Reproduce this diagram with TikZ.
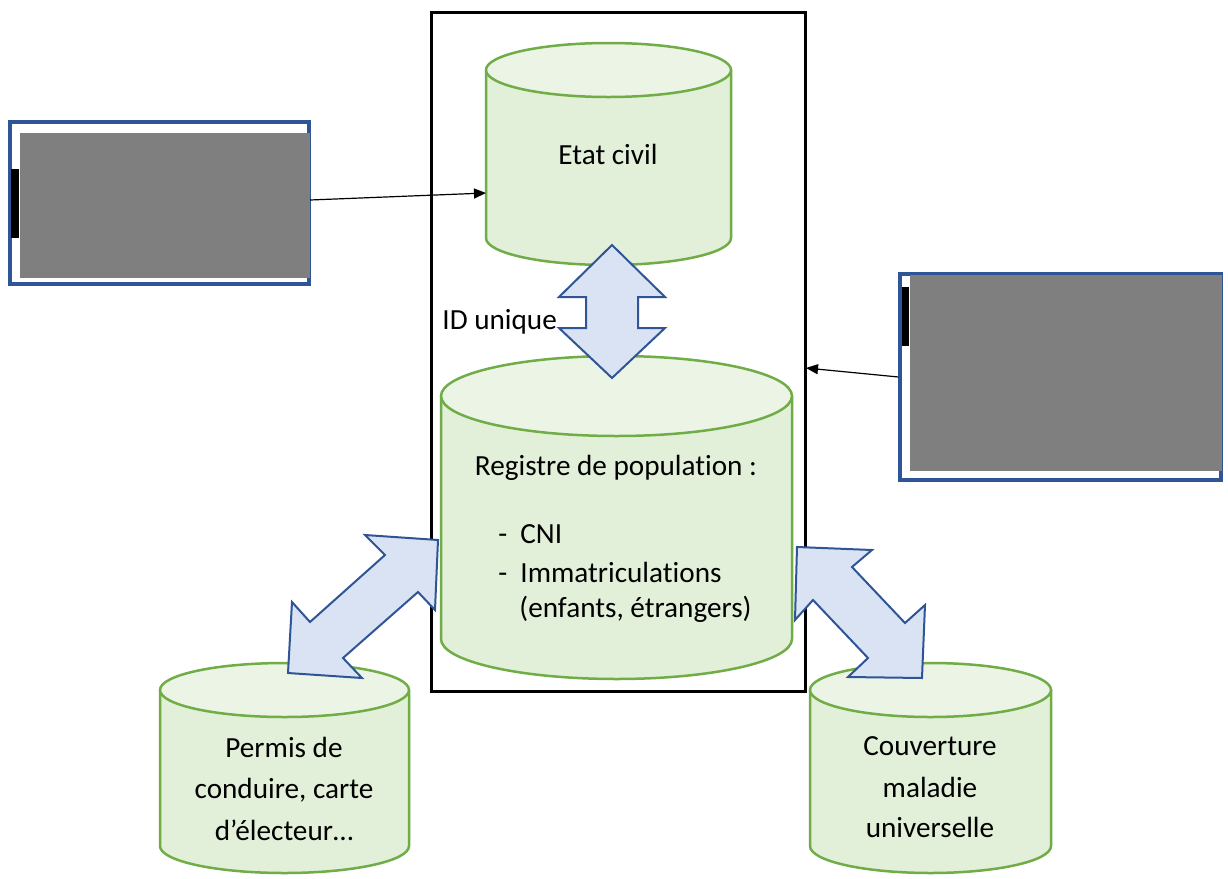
\documentclass[tikz,border=0pt]{standalone}
\usepackage{fontspec}
\setmainfont[Ligatures=NoCommon]{Carlito}
\usetikzlibrary{arrows.meta,fit}
\definecolor{cylbody}{HTML}{E2EFD9}
\definecolor{cyltop}{HTML}{ECF4E6}
\definecolor{cylline}{HTML}{70AD47}
\definecolor{arrfill}{HTML}{DAE3F3}
\definecolor{arrline}{HTML}{2F5597}
\definecolor{frameblue}{HTML}{2F5597}
\definecolor{maskgray}{HTML}{7F7F7F}
\newcommand\dbcyl[5]{%
  \pgfmathsetmacro\cylrx{(#2-#1)/2}%
  \pgfmathsetmacro\cylcx{(#1+#2)/2}%
  \fill[cylbody] (#1,#3) -- (#1,#4) arc[start angle=180,end angle=0,x radius=\cylrx,y radius=#5] -- (#2,#3) -- cycle;
  \draw[cylstroke] (#1,#3) -- (#1,#4) arc[start angle=180,end angle=0,x radius=\cylrx,y radius=#5] -- (#2,#3);
  \draw[cylstroke,fill=cyltop] (\cylcx,#3) ellipse[x radius=\cylrx,y radius=#5];
}
\tikzset{
  cylstroke/.style={draw=cylline,line width=1.25pt},
  fatarrow/.style={draw=arrline,fill=arrfill,line width=1pt,line join=miter},
  conn/.style={draw=black,line width=0.6pt,-{Triangle[length=6pt,width=5pt]}},
  lbl/.style={font=\fontsize{14.6}{17}\selectfont,text=black,anchor=base,inner sep=0},
  bluebox/.style={draw=frameblue,line width=1.6pt,inner sep=0},
  ghost/.style={inner sep=0}
}
\begin{document}
\begin{tikzpicture}[x=0.5pt,y=-0.5pt]
\useasboundingbox (0,0) rectangle (1228,879);
\fill[white] (0,0) rectangle (1228,879);
% outer frame
\node[fit={(431,12) (805,691)},draw=black,line width=1.5pt,inner sep=0] (frame) {};
% cylinders
\dbcyl{486}{731}{70}{238}{27}
\node[ghost,fit={(486,43) (731,265)}] (etat) {};
\dbcyl{441}{792}{396}{639}{40}
\node[ghost,fit={(441,356) (792,679)}] (registre) {};
\dbcyl{160}{409}{690}{846}{27}
\node[ghost,fit={(160,663) (409,873)}] (permis) {};
\dbcyl{810}{1051}{690}{846}{27}
\node[ghost,fit={(810,663) (1051,873)}] (cmu) {};
% texts
\node[lbl] (t-etat) at (608,164) {Etat civil};
\node[lbl] (t-reg) at (616,475) {Registre de population :};
\node[lbl,anchor=base west] (t-d1) at (498,543) {-};
\node[lbl,anchor=base west] (t-cni) at (520,543) {CNI};
\node[lbl,anchor=base west] (t-d2) at (498,582) {-};
\node[lbl,anchor=base west] (t-imm) at (520,582) {Immatriculations};
\node[lbl,anchor=base west] (t-enf) at (519,617) {(enfants, étrangers)};
\node[lbl] (t-p1) at (284,757) {Permis de};
\node[lbl] (t-p2) at (284,798) {conduire, carte};
\node[lbl] (t-p3) at (284,840) {d’électeur…};
\node[lbl] (t-c1) at (930,755) {Couverture};
\node[lbl] (t-c2) at (930,797) {maladie};
\node[lbl] (t-c3) at (930,837) {universelle};
\node[lbl,anchor=base west] (t-id) at (442,329) {ID unique};
% left masked box
\node[bluebox,fit={(10,122) (309,284)}] (lbox) {};
\fill[maskgray] (20,133) rectangle (310,278);
\fill[black] (11,169) rectangle (19,238);
% right masked box
\node[bluebox,fit={(900,274) (1221,480)}] (rbox) {};
\fill[maskgray] (910,275) rectangle (1222,471);
\fill[black] (902,287) rectangle (909,346);
% connectors
\coordinate (etatIn) at (486,193);
\coordinate (lOut) at (310,200);
\draw[conn] (lOut) -- (etatIn);
\coordinate (frameIn) at (806,368);
\draw[conn] (rbox.west) -- (frameIn);
% fat double arrows
\draw[fatarrow] (612,245) -- (665,297) -- (638,297) -- (638,328) -- (665,328) -- (612,378) -- (559,328) -- (586,328) -- (586,297) -- (559,297) -- cycle;
\draw[fatarrow] (438,540) -- (365,535) -- (385,555) -- (310,622) -- (292,602) -- (288,673) -- (362,678) -- (343,658) -- (418,592) -- (435,610) -- cycle;
\draw[fatarrow] (797,547) -- (872,550) -- (852,567) -- (905,623) -- (925,605) -- (922,678) -- (848,677) -- (868,658) -- (813,600) -- (795,620) -- cycle;
\end{tikzpicture}
\end{document}
